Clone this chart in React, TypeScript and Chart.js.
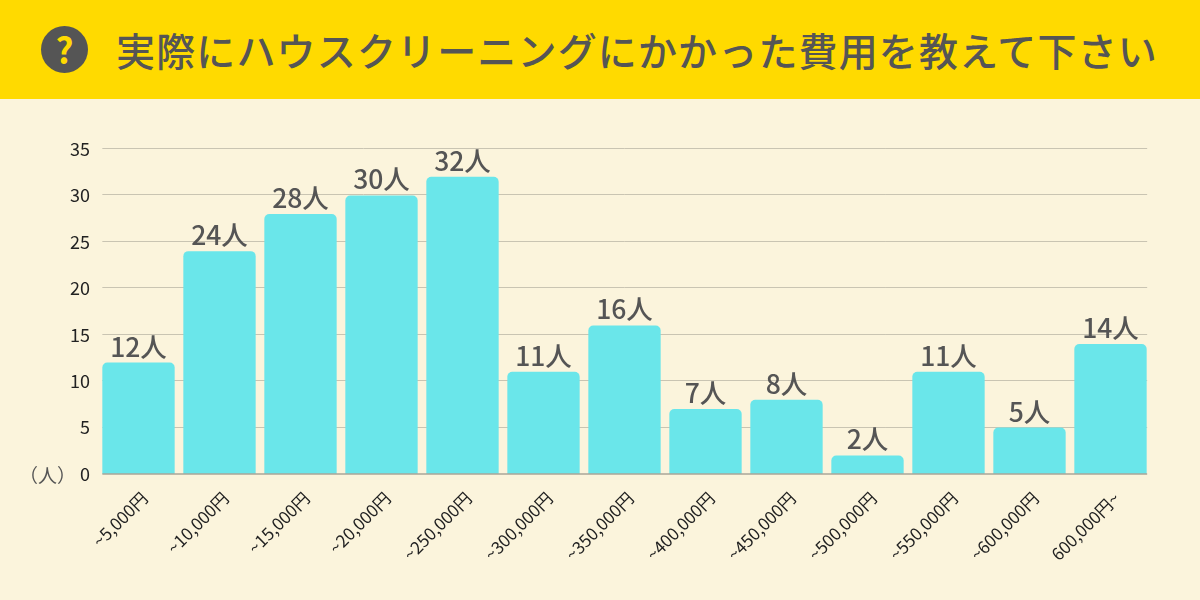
import React, { useEffect, useRef } from "react";
import { Chart, registerables } from "chart.js";

Chart.register(...registerables);

const TITLE = "実際にハウスクリーニングにかかった費用を教えて下さい";
const UNIT = "（人）";
const LABEL_SUFFIX = "人";
const categories = ["~5,000円","~10,000円","~15,000円","~20,000円","~250,000円","~300,000円","~350,000円","~400,000円","~450,000円","~500,000円","~550,000円","~600,000円","600,000円~"];
const people = [12,24,28,30,32,11,16,7,8,2,11,5,14];

const FONT = '"Noto Sans CJK JP", "Noto Sans", sans-serif';
const INK = "#555555";
const GRID = "#c9c4b2";
const AXIS = "#aaa699";

const decor = {
  id: "decor",
  beforeDatasetsDraw(chart: any) {
    const y = chart.scales.y;
    const bars = chart.getDatasetMeta(0).data;
    const left = bars[0].x - bars[0].width / 2;
    const last = bars[bars.length - 1];
    const right = last.x + last.width / 2 + 0.5;
    const ctx = chart.ctx;
    ctx.save();
    ctx.strokeStyle = GRID;
    ctx.lineWidth = 1;
    y.ticks.forEach((t: any) => {
      if (t.value === 0) return;
      const py = Math.round(y.getPixelForValue(t.value)) - 0.5;
      ctx.beginPath(); ctx.moveTo(left, py); ctx.lineTo(right, py); ctx.stroke();
    });
    ctx.restore();
  },
  afterDatasetsDraw(chart: any) {
    const y = chart.scales.y;
    const bars = chart.getDatasetMeta(0).data;
    const left = bars[0].x - bars[0].width / 2;
    const last = bars[bars.length - 1];
    const right = last.x + last.width / 2 + 0.5;
    const ctx = chart.ctx;
    ctx.save();
    ctx.strokeStyle = AXIS;
    ctx.lineWidth = 1.5;
    const py = y.getPixelForValue(0);
    ctx.beginPath(); ctx.moveTo(left, py); ctx.lineTo(right, py); ctx.stroke();
    ctx.fillStyle = INK;
    ctx.font = `500 26.5px ${FONT}`;
    ctx.textAlign = "center";
    ctx.textBaseline = "alphabetic";
    bars.forEach((b: any, i: number) => {
      ctx.fillText(`${people[i]}${LABEL_SUFFIX}`, b.x, b.y - 6);
    });
    ctx.textAlign = "right";
    ctx.font = `400 19px ${FONT}`;
    ctx.textBaseline = "middle";
    ctx.fillText(UNIT, 76, py + 2);
    ctx.restore();
  },
};

export default function App() {
  const ref = useRef<HTMLCanvasElement>(null);
  useEffect(() => {
    const chart = new Chart(ref.current!, {
      type: "bar",
      data: {
        labels: categories,
        datasets: [{
          data: people,
          backgroundColor: "#6ae6ea",
          barPercentage: 0.893,
          categoryPercentage: 1,
          borderRadius: { topLeft: 5, topRight: 5, bottomLeft: 0, bottomRight: 0 },
          borderSkipped: false,
        }],
      },
      options: {
        responsive: false,
        animation: false,
        layout: { padding: { top: 149, right: 49, left: 0, bottom: 0 } },
        plugins: { legend: { display: false }, title: { display: false }, tooltip: { enabled: false } },
        scales: {
          x: {
            grid: { display: false },
            border: { display: false },
            afterFit(s: any) { s.height = 126; s.paddingLeft = 0; s.paddingRight = 0; },
            ticks: {
              color: "#222222",
              font: { family: FONT, size: 17 },
              minRotation: 45, maxRotation: 45,
              autoSkip: false,
              padding: 6,
              labelOffset: 6,
            },
          },
          y: {
            min: 0, max: 35,
            grid: { display: false, drawTicks: false },
            border: { display: false },
            afterFit(s: any) { s.width = 98; s.paddingTop = 0; s.paddingBottom = 0; },
            ticks: {
              stepSize: 5,
              color: "#222222",
              font: { family: FONT, size: 18 },
              padding: 8,
            },
          },
        },
      },
      plugins: [decor],
    } as any);
    return () => chart.destroy();
  }, []);

  return (
    <div style={{ position: "fixed", inset: 0, width: 1200, height: 600, background: "#fbf4dc", overflow: "hidden" }}>
      <canvas ref={ref} width={1200} height={600} style={{ position: "absolute", left: 0, top: 0, width: 1200, height: 600 }} />
      <div style={{ position: "absolute", left: 0, top: 0, width: 1200, height: 99, background: "#ffda00" }} />
      <div style={{ position: "absolute", left: 41, top: 26, width: 47, height: 47, borderRadius: "50%", background: INK, color: "#ffda00", fontFamily: FONT, fontWeight: 700, fontSize: 35, lineHeight: "46px", textAlign: "center" }}>?</div>
      <div style={{ position: "absolute", left: 116, top: 21, height: 56, lineHeight: "56px", fontFamily: FONT, fontWeight: 500, fontSize: 39, letterSpacing: 1.15, color: INK, whiteSpace: "nowrap" }}>{TITLE}</div>
    </div>
  );
}
